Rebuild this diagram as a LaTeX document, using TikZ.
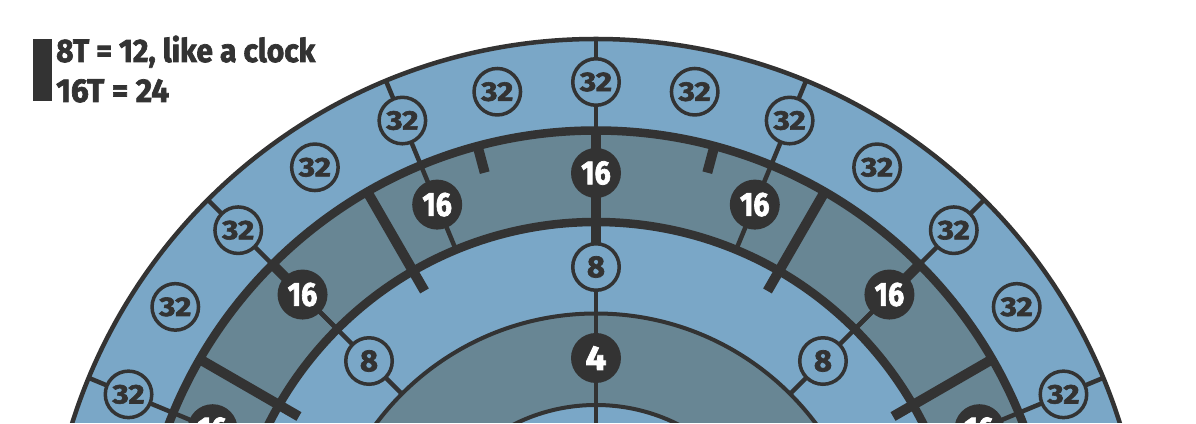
\documentclass[tikz,border=0pt]{standalone}
\usepackage{fontspec}
\setmainfont{Fira Sans}[BoldFeatures={FakeBold=2.2}]
\usepackage{graphicx}
\definecolor{lblue}{RGB}{122,167,199}
\definecolor{gblue}{RGB}{104,134,148}
\definecolor{ink}{RGB}{51,51,51}
\newcommand{\fitw}[3]{\resizebox{#1}{\height}{\fontsize{#2}{#2}\selectfont\bfseries #3}}
\begin{document}
\begin{tikzpicture}[x=1pt,y=1pt,
  thinl/.style={draw=ink, line width=4.5pt},
  ringthin/.style={draw=ink, line width=4pt},
  ringthick/.style={draw=ink, line width=8.5pt},
  divider/.style={draw=ink, line width=10pt},
  lnode/.style={circle, fill=lblue, draw=ink, line width=3.5pt, minimum size=46.5pt, inner sep=0pt, text=ink},
  dnode/.style={circle, fill=ink, minimum size=50pt, inner sep=0pt, text=white},
  legtext/.style={anchor=base west, inner sep=0pt, text=ink},
]
\useasboundingbox (-596,165) rectangle (600,588);
\clip (-596,165) rectangle (600,588);

% positions
\foreach \i in {0,...,12} {\coordinate (c32-\i) at ({157.5-11.25*\i}:506);}
\foreach \i in {0,...,6} {
  \coordinate (c16-\i) at ({157.5-22.5*\i}:415);
  \coordinate (o-\i) at ({157.5-22.5*\i}:549);
  \coordinate (m-\i) at ({157.5-22.5*\i}:366);
}
\foreach \i in {0,...,2} {
  \coordinate (c8-\i) at ({135-45*\i}:321);
  \coordinate (t-\i) at ({135-45*\i}:274.5);
}
\coordinate (c4) at (90:230);
\coordinate (ctr) at (0,0);

% bands
\fill[lblue] (ctr) circle (549);
\fill[gblue] (ctr) circle (457.5);
\fill[lblue] (ctr) circle (366);
\fill[gblue] (ctr) circle (274.5);
\fill[lblue] (ctr) circle (183);

% ring outlines
\path[thinl] (ctr) circle (549);
\path[ringthick] (ctr) circle (457.5);
\path[ringthick] (ctr) circle (366);
\path[ringthin] (ctr) circle (274.5);
\path[ringthin] (ctr) circle (183);

% radial connectors
\foreach \i in {0,...,6} {
  \pgfmathtruncatemacro{\j}{2*\i}
  \path[thinl] (o-\i) -- (c32-\j) -- (c16-\i) -- (m-\i);
}
\foreach \i in {0,...,2} {
  \pgfmathtruncatemacro{\j}{2*\i+1}
  \path[thinl] (c16-\j) -- (c8-\i) -- (t-\i);
}
\path[thinl] (c8-1) -- (c4) -- (ctr);

% clock dividers (12) and half ticks (24)
\foreach \a in {150,120,90,60,30} {\path[divider] (\a:457.5) -- (\a:343);}
\foreach \a in {135,105,75,45} {\path[divider] (\a:457.5) -- (\a:430);}

% nodes
\foreach \i in {0,...,12} {\node[lnode] (n32-\i) at (c32-\i) {\fitw{32pt}{27}{32}};}
\foreach \i in {0,...,6} {\node[dnode] (n16-\i) at (c16-\i) {\fitw{29.5pt}{33.5}{16}};}
\foreach \i in {0,...,2} {\node[lnode] (n8-\i) at (c8-\i) {\fitw{18pt}{30.5}{8}};}
\node[dnode] (n4) at (c4) {\fitw{21pt}{34.5}{4}};

% legend
\fill[ink] (-563,487) rectangle (-544,549);
\node[legtext] (leg1) at (-540,526) {\fitw{259pt}{32.5}{8T = 12, like a clock}};
\node[legtext] (leg2) at (-540,486) {\fitw{113pt}{33}{16T = 24}};
\end{tikzpicture}
\end{document}
